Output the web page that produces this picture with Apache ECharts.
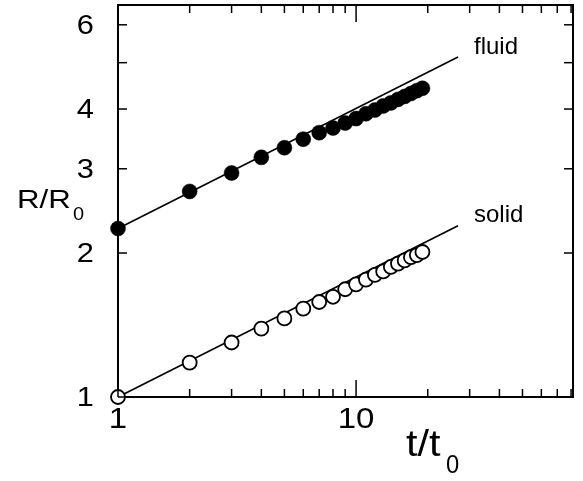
<!DOCTYPE html>
<html>
<head>
<meta charset="utf-8">
<script src="https://cdn.jsdelivr.net/npm/echarts@6/dist/echarts.min.js"></script>
<style>html,body{margin:0;padding:0;background:#fff}#c{width:583px;height:481px}</style>
</head>
<body>
<div id="c"></div>
<script>
// ---- data ----
const tSteps = [1,2,3,4,5,6,7,8,9,10,11,12,13,14,15,16,17,18,19];
const fluidR = [2.25,2.69,2.94,3.17,3.32,3.46,3.57,3.65,3.74,3.82,3.91,3.98,4.06,4.12,4.19,4.25,4.31,4.37,4.42];
const solidR = [1.00,1.18,1.30,1.39,1.46,1.53,1.58,1.62,1.68,1.72,1.76,1.80,1.83,1.87,1.90,1.93,1.96,1.98,2.01];
const fitT = [1, 26.8];
const fluidFitR = [2.25, 5.14];
const solidFitR = [1.00, 2.28];
const xMajorTicks = [1, 10];
const xMinorTicks = [2,3,4,5,6,7,8,9,20,30,40,50,60,70,80];
const xTickLabels = [1, 10];
const yTicks = [1,2,3,4,5,6];
const yTickLabels = [1,2,3,4,6];
const X_MIN = 1, X_MAX = 81.5, Y_MIN = 1, Y_MAX = 6.6;

const FONT = '"Liberation Sans", Arial, Helvetica, sans-serif';
const SX = 1.1;
const MAJOR_LEN = 17, MINOR_LEN = 8, Y_LEN = 9;

const zip = (a, b) => a.map((v, i) => [v, b[i]]);

const chart = echarts.init(document.getElementById('c'), null, {renderer: 'canvas'});

const baseSeries = [
  {type: 'line', data: zip(fitT, fluidFitR), showSymbol: false, clip: false,
    lineStyle: {color: '#000', width: 1.6},
    endLabel: {show: true, formatter: 'fluid', distance: 16, offset: [0, -10], fontSize: 24, fontFamily: FONT, color: '#000'}},
  {type: 'line', data: zip(fitT, solidFitR), showSymbol: false, clip: false,
    lineStyle: {color: '#000', width: 1.6},
    endLabel: {show: true, formatter: 'solid', distance: 16, offset: [0, -10], fontSize: 24, fontFamily: FONT, color: '#000'}},
  {type: 'scatter', data: zip(tSteps, fluidR), symbol: 'circle', symbolSize: 15, clip: false, z: 3,
    itemStyle: {color: '#000', borderColor: '#000', borderWidth: 0.5, opacity: 1}},
  {type: 'scatter', data: zip(tSteps, solidR), symbol: 'circle', symbolSize: 14, clip: false, z: 3,
    itemStyle: {color: '#fff', borderColor: '#000', borderWidth: 1.8, opacity: 1}},
  {type: 'custom', data: xTickLabels.map(v => [v, Y_MIN]), clip: false,
    renderItem: function (params, api) {
      const v = api.value(0);
      const p = api.coord([v, Y_MIN]);
      return {type: 'text', x: p[0], y: p[1] + 23, scaleX: SX,
        style: {text: String(v), font: '30px ' + FONT, fill: '#000', align: 'center', verticalAlign: 'middle'}};
    }},
  {type: 'custom', data: yTickLabels.map(v => [X_MIN, v]), clip: false,
    renderItem: function (params, api) {
      const v = api.value(1);
      const p = api.coord([X_MIN, v]);
      return {type: 'text', x: p[0] - 24, y: p[1] + 1, scaleX: SX,
        style: {text: String(v), font: '28px ' + FONT, fill: '#000', align: 'right', verticalAlign: 'middle'}};
    }}
];

const titleGraphics = [
  {type: 'text', left: 17, top: 189, scaleX: 1.25, style: {text: 'R/R', font: '25px ' + FONT, fill: '#000'}},
  {type: 'text', left: 73, top: 205, scaleX: 1.05, style: {text: '0', font: '19px ' + FONT, fill: '#000'}},
  {type: 'text', left: 406, top: 428, scaleX: 1.15, style: {text: 't/t', font: '36px ' + FONT, fill: '#000'}},
  {type: 'text', left: 446, top: 454, scaleX: 0.95, style: {text: '0', font: '25px ' + FONT, fill: '#000'}}
];

chart.setOption({
  animation: false,
  backgroundColor: '#fff',
  grid: {left: 118, right: 10, top: 5, bottom: 84, show: true, borderColor: '#000', borderWidth: 2, backgroundColor: 'transparent'},
  xAxis: {type: 'log', logBase: 10, min: X_MIN, max: X_MAX,
    axisLine: {show: false}, axisTick: {show: false}, axisLabel: {show: false}, splitLine: {show: false}},
  yAxis: {type: 'log', logBase: 10, min: Y_MIN, max: Y_MAX,
    axisLine: {show: false}, axisTick: {show: false}, axisLabel: {show: false}, splitLine: {show: false}},
  graphic: titleGraphics,
  series: baseSeries
});

// Tick marks: positions obtained from the chart's own log scales
const toPx = (x, y) => chart.convertToPixel({gridIndex: 0}, [x, y]);
const tickGraphics = [];
function addTick(x1, y1, x2, y2) {
  tickGraphics.push({type: 'line', z: 100, silent: true,
    shape: {x1: x1, y1: y1, x2: x2, y2: y2},
    style: {stroke: '#000', lineWidth: 1.5}});
}
xMajorTicks.concat(xMinorTicks).forEach(v => {
  const len = xMajorTicks.includes(v) ? MAJOR_LEN : MINOR_LEN;
  const pb = toPx(v, Y_MIN), pt = toPx(v, Y_MAX);
  addTick(pb[0], pb[1], pb[0], pb[1] - len);
  addTick(pt[0], pt[1], pt[0], pt[1] + len);
});
yTicks.forEach(v => {
  const pl = toPx(X_MIN, v), pr = toPx(X_MAX, v);
  addTick(pl[0], pl[1], pl[0] + Y_LEN, pl[1]);
  addTick(pr[0], pr[1], pr[0] - Y_LEN, pr[1]);
});
chart.setOption({graphic: titleGraphics.concat(tickGraphics)});
</script>
</body>
</html>
